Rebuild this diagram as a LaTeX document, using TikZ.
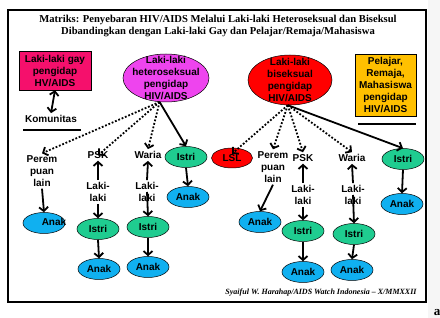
\documentclass[tikz,border=0pt]{standalone}
\usepackage{fontspec}
\setmainfont{Liberation Serif}
\setsansfont{Liberation Sans}
\usetikzlibrary{shapes.geometric,arrows.meta}
\definecolor{merahmuda}{HTML}{F5106C}
\definecolor{ungu}{HTML}{EE44EE}
\definecolor{merah}{HTML}{FF0000}
\definecolor{kuning}{HTML}{FFC000}
\definecolor{hijau}{HTML}{1FCC90}
\definecolor{biru}{HTML}{10B0F0}
\definecolor{latar}{HTML}{F6F6F6}
\tikzset{
  teks/.style={font=\sffamily\bfseries\fontsize{10}{12}\selectfont, align=center, inner sep=2pt},
  elips/.style={ellipse, draw, line width=0.5pt, inner sep=0pt, minimum width=42pt, minimum height=21pt},
  istri/.style={elips, teks, inner sep=0pt, fill=hijau},
  anak/.style={elips, teks, inner sep=0pt, fill=biru},
  panah/.style={line width=1.8pt, -{Straight Barb[length=4pt,width=9pt]}},
  titik/.style={panah, dash pattern=on 1.8pt off 1.8pt}
}
\begin{document}
\begin{tikzpicture}[x=1pt,y=-1pt]
\useasboundingbox (0,0) rectangle (440,318);
\fill[latar] (428,0) rectangle (440,318);
\node[font=\rmfamily\bfseries\fontsize{13}{14}\selectfont, inner sep=0pt] (huruf) at (437,313) {a};
\draw[line width=1.6pt] (8,10) rectangle (426,302);
\node[font=\rmfamily\bfseries\fontsize{10.6}{12}\selectfont, align=center] (judul) at (218,26)
  {Matriks: Penyebaran HIV/AIDS Melalui Laki-laki Heteroseksual dan Biseksul\\
   Dibandingkan dengan Laki-laki Gay dan Pelajar/Remaja/Mahasiswa};
% kiri
\node[teks, draw, fill=merahmuda, minimum width=72pt, minimum height=39pt] (gay) at (55,70.5) {Laki-laki gay\\pengidap\\HV/AIDS};
\node[teks] (kom) at (51,119) {Komunitas};
\draw[line width=1.5pt] (23,130) -- (81,130);
\draw[panah, {Straight Barb[length=4pt,width=9pt]}-{Straight Barb[length=4pt,width=9pt]}] (gay.south) -- (kom.north);
\node[elips, fill=ungu, minimum width=86pt, minimum height=48pt] (hetero) at (166,78) {};
\node[teks] at (hetero.center) {Laki-laki\\heteroseksual\\pengidap\\HIV/AIDS};
\coordinate (asal1) at (hetero.-105);
\node[teks] (perem1) at (42,171) {Perem\\puan\\lain};
\node[teks] (psk1) at (98,155) {PSK};
\node[teks] (waria1) at (148,155) {Waria};
\node[istri] (istriA) at (186,157) {Istri};
\draw[titik] (asal1) -- (perem1.north);
\draw[titik] (asal1) -- ([yshift=-6pt]psk1.north);
\draw[titik] (asal1) -- (waria1.north);
\draw[panah] (asal1) -- (istriA.north);
\node[anak] (anak0) at (44,223) {};
\node[teks] at (54,222) {Anak};
\draw[panah] (perem1.south) -- (anak0.north);
\node[teks] (laki1) at (98,192) {Laki-\\laki};
\node[istri] (istri1) at (98,229) {Istri};
\node[anak] (anak1) at (99,269) {Anak};
\draw[panah] (laki1.north) -- (psk1.south);
\draw[panah] (laki1.south) -- (istri1.north);
\draw[panah] (istri1.south) -- (anak1.north);
\node[teks] (laki2) at (147,192) {Laki-\\laki};
\node[istri] (istri2) at (148,227) {Istri};
\node[anak] (anak2) at (148,267) {Anak};
\draw[panah] (laki2.north) -- (waria1.south);
\draw[panah] (laki2.center) -- (istri2.north);
\draw[panah] (istri2.south) -- (anak2.north);
\node[anak] (anakA) at (188,197) {Anak};
\draw[panah] (istriA.south) -- (anakA.north);
% kanan
\node[elips, fill=merah, minimum width=84pt, minimum height=50pt] (bisek) at (290,80) {};
\node[teks] at (bisek.center) {Laki-laki\\biseksual\\pengidap\\HIV/AIDS};
\node[teks, draw, line width=0.8pt, fill=kuning, minimum width=61pt, minimum height=62pt, inner sep=1pt] (pelajar) at (385.5,85) {Pelajar,\\Remaja,\\Mahasiswa\\pengidap\\HIV/AIDS};
\draw[line width=1.5pt] (358,124) -- (416,124);
\coordinate (asal2) at (bisek.-95);
\node[elips, teks, fill=merah, minimum width=41pt, minimum height=20pt] (lsl) at (232,158) {LSL};
\node[teks] (perem2) at (273,167) {Perem\\puan\\lain};
\node[teks] (psk2) at (303,158) {PSK};
\node[teks] (waria2) at (352,158) {Waria};
\node[istri] (istriB) at (403,159) {Istri};
\draw[titik] (asal2) -- ([yshift=-6pt]lsl.north);
\draw[titik] (asal2) -- (perem2.north);
\draw[titik] (asal2) -- (psk2.north);
\draw[titik] (asal2) -- (waria2.north);
\draw[panah] (asal2) -- (istriB.north);
\node[anak] (anak5) at (260,222) {Anak};
\draw[panah] (perem2.south) -- (anak5.north);
\node[teks] (laki3) at (303,195) {Laki-\\laki};
\node[istri] (istri3) at (303,231) {Istri};
\node[anak] (anak3) at (303,272) {Anak};
\draw[panah] (laki3.north) -- (psk2.south);
\draw[panah] (laki3.south) -- (istri3.north);
\draw[panah] (istri3.south) -- (anak3.north);
\node[teks] (laki4) at (353,195) {Laki-\\laki};
\node[istri] (istri4) at (354,234) {Istri};
\node[anak] (anak4) at (352,270) {Anak};
\draw[panah] (laki4.north) -- (waria2.south);
\draw[panah] (laki4.center) -- (istri4.north);
\draw[panah] (istri4.south) -- (anak4.north);
\node[anak] (anakB) at (402,204) {Anak};
\draw[panah] (istriB.south) -- (anakB.north);
\node[font=\rmfamily\bfseries\itshape\fontsize{8}{9}\selectfont] (sumber) at (321,293) {Syaiful W. Harahap/AIDS Watch Indonesia -- X/MMXXII};
\end{tikzpicture}
\end{document}
